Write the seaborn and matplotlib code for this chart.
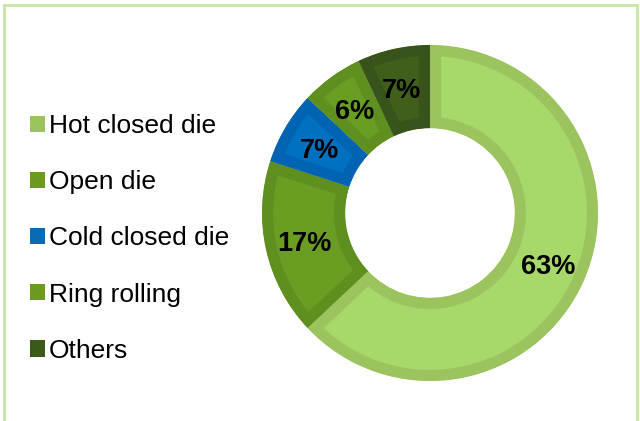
import matplotlib
matplotlib.use("Agg")
import matplotlib.pyplot as plt
import seaborn as sns
from matplotlib.patches import Patch, Rectangle

sns.set_theme(style="white")
plt.rcParams['font.family'] = ['Liberation Sans', 'DejaVu Sans']

categories = ["Hot closed die", "Open die", "Cold closed die", "Ring rolling", "Others"]
values = [63, 17, 7, 6, 7]
fill_colors = ["#A6D86A", "#6A9E23", "#0070C0", "#6A9E23", "#3F5F1A"]
edge_colors = ["#9BC45E", "#5F8F1E", "#0064B2", "#5F8F1E", "#38541A"]
legend_colors = ["#9BC45E", "#6A9A23", "#0A6AB4", "#6A9A23", "#3B5A17"]

W, H = 640, 421
fig = plt.figure(figsize=(W / 100, H / 100), dpi=100)

# frame
fig.patches.append(Rectangle((4 / W, -0.05), 633 / W, 1 - 5 / H + 0.05,
                             transform=fig.transFigure, fill=False,
                             edgecolor="#C8E6A6", linewidth=2))

cx, cy, R = 430, 421 - 213, 168
ax = fig.add_axes([(cx - R) / W, (cy - R) / H, 2 * R / W, 2 * R / H])
wedges, texts, autotexts = ax.pie(
    values, startangle=90, counterclock=False, radius=1.0,
    colors=fill_colors, autopct=lambda p: f"{p:.0f}%", pctdistance=0.765,
    wedgeprops=dict(width=0.495, linewidth=0),
    textprops=dict(fontsize=19.5, fontweight="bold", color="black"))
for t in autotexts:
    t.set_verticalalignment("center_baseline")
ax.set_xlim(-1, 1)
ax.set_ylim(-1, 1)
ax.set_aspect("equal")
ax.axis("off")
for w, ec in zip(wedges, edge_colors):
    w.set_edgecolor(ec)
    w.set_linewidth(16)
    w.set_clip_on(True)
    w.set_clip_path(w.get_path(), w.get_transform())

handles = [Patch(facecolor=c, edgecolor="none") for c in legend_colors]
leg = fig.legend(handles, categories, loc="upper left",
                 bbox_to_anchor=(30 / W, 1 - 114 / H), frameon=False,
                 fontsize=19, handlelength=0.57, handleheight=0.57,
                 handletextpad=0.15, labelspacing=1.22, borderpad=0,
                 borderaxespad=0, labelcolor="black")

fig.savefig("out.png", dpi=100)
